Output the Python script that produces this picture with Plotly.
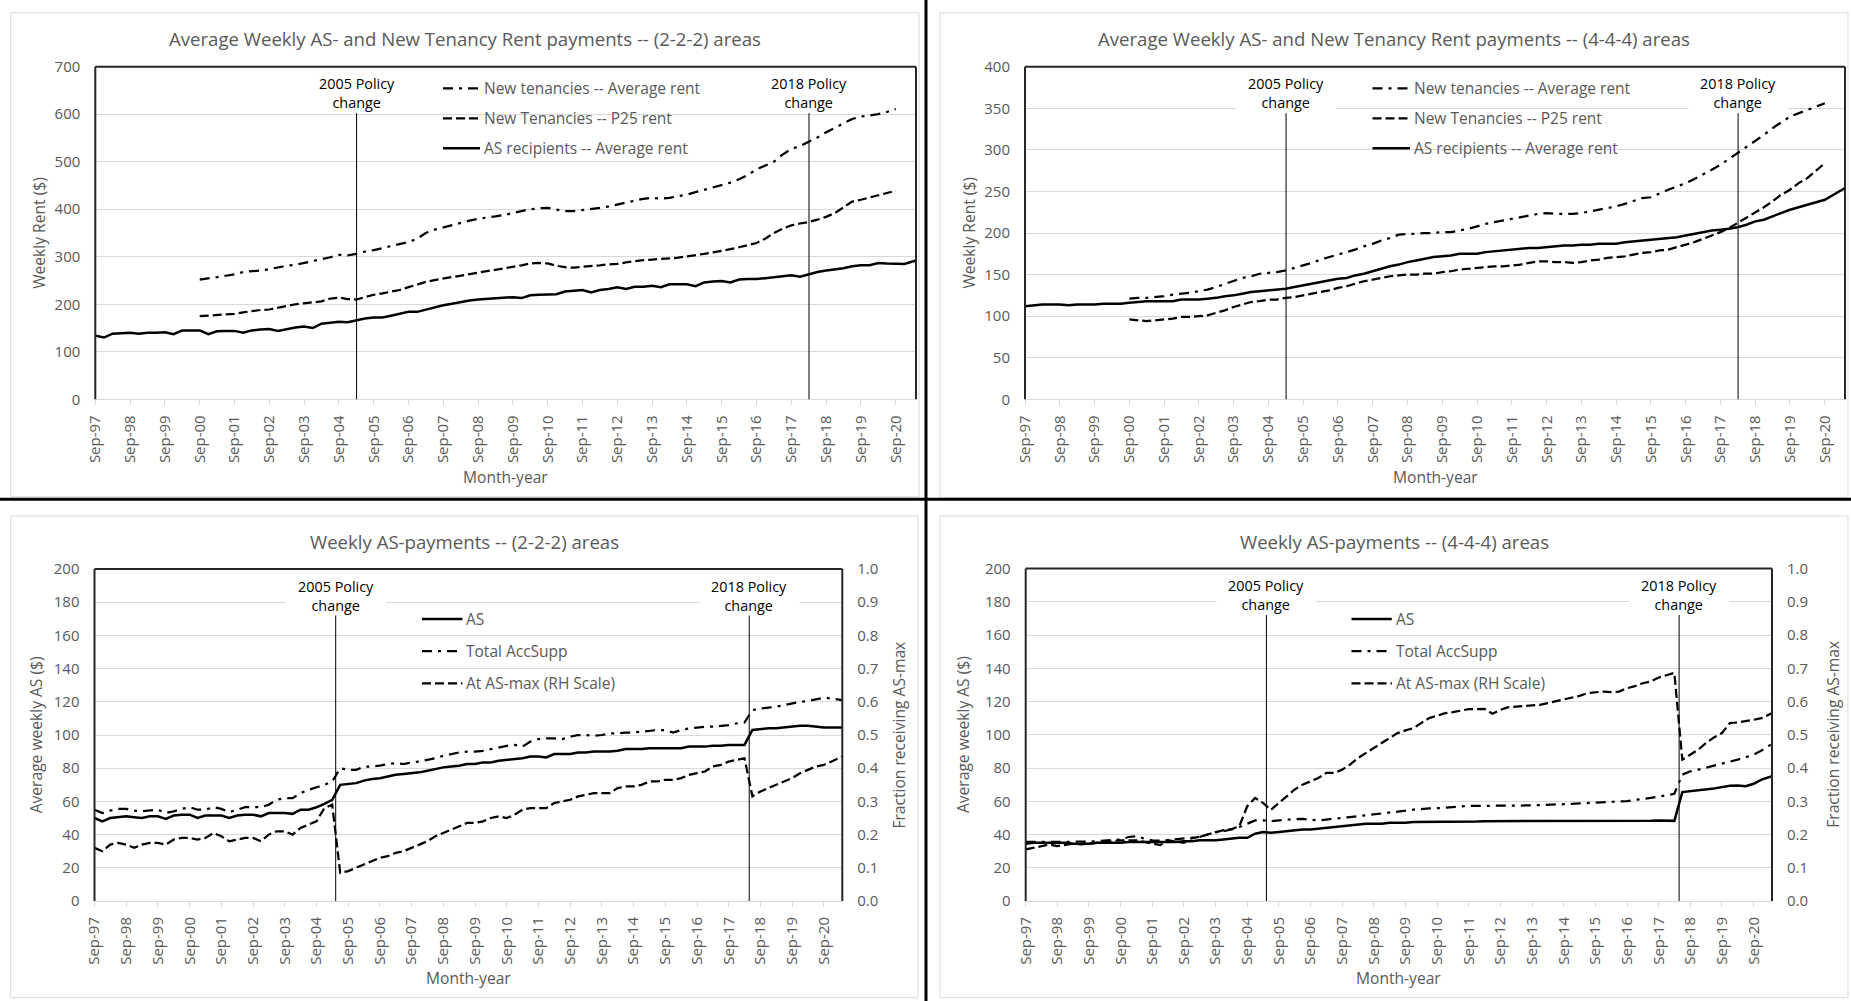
import pandas as pd
import plotly.graph_objects as go

# ---------------------------------------------------------------------------
# Data (quarterly observations, Sep-97 .. Apr-21)
# ---------------------------------------------------------------------------
QUARTERS = list(pd.date_range("1997-09-01", periods=94, freq="3MS")) + [pd.Timestamp("2021-04-01")]
NT_QUARTERS = QUARTERS[12:93]          # new-tenancy bond data: Sep-00 .. Sep-20

# (2-2-2) areas -- weekly rents ($)
RENT_222_AS = [134, 130, 138, 139, 140, 138, 140, 140, 141, 137,
               145, 145, 145, 137, 143, 144, 144, 140, 145, 147,
               148, 144, 148, 151, 153, 150, 159, 161, 163, 162,
               166, 170, 172, 172, 176, 180, 184, 184, 189, 194,
               198, 201, 205, 208, 210, 211, 212, 213, 215, 213,
               219, 220, 221, 221, 227, 228, 230, 225, 230, 232,
               236, 232, 237, 237, 239, 236, 242, 242, 242, 238,
               246, 248, 249, 246, 252, 253, 253, 255, 257, 259,
               261, 258, 263, 268, 271, 273, 276, 280, 282, 282,
               287, 286, 286, 285, 292]
RENT_222_NT_AVG = [252, 254, 257, 260, 263, 268, 269, 271, 274, 278,
                   281, 283, 287, 290, 294, 299, 304, 303, 306, 311,
                   314, 318, 322, 327, 331, 338, 350, 357, 362, 366,
                   371, 376, 380, 382, 385, 388, 392, 397, 400, 402,
                   403, 399, 396, 396, 398, 400, 403, 406, 410, 414,
                   418, 422, 424, 422, 424, 427, 431, 436, 441, 447,
                   452, 456, 463, 472, 484, 492, 500, 515, 527, 533,
                   542, 551, 562, 571, 581, 590, 595, 597, 600, 605,
                   611]
RENT_222_NT_P25 = [175, 176, 177, 178, 180, 183, 186, 188, 189, 193,
                   197, 200, 202, 204, 206, 212, 214, 211, 210, 215,
                   220, 223, 226, 230, 236, 242, 247, 251, 254, 257,
                   261, 264, 267, 270, 272, 275, 279, 282, 286, 287,
                   286, 281, 278, 277, 279, 280, 282, 284, 285, 288,
                   291, 293, 294, 295, 296, 298, 301, 303, 306, 309,
                   312, 316, 320, 325, 329, 338, 350, 359, 366, 370,
                   373, 378, 384, 392, 404, 416, 420, 425, 430, 434,
                   439]

# (4-4-4) areas -- weekly rents ($)
RENT_444_AS = [112, 113, 114, 114, 114, 113, 114, 114, 114, 115,
               115, 115, 116, 117, 118, 118, 118, 118, 120, 120,
               120, 121, 122, 124, 125, 127, 129, 130, 131, 132,
               133, 135, 137, 139, 141, 143, 145, 146, 149, 151,
               154, 157, 160, 162, 165, 167, 169, 171, 172, 173,
               175, 175, 175, 177, 178, 179, 180, 181, 182, 182,
               183, 184, 185, 185, 186, 186, 187, 187, 187, 189,
               190, 191, 192, 193, 194, 195, 197, 199, 201, 203,
               204, 205, 207, 210, 214, 216, 220, 224, 228, 231,
               234, 237, 240, 246, 254]
RENT_444_NT_AVG = [121, 122, 122, 123, 124, 126, 127, 128, 130, 132,
                   135, 139, 143, 146, 148, 151, 152, 153, 155, 158,
                   161, 164, 168, 171, 174, 177, 180, 184, 187, 191,
                   194, 198, 199, 199, 200, 200, 201, 201, 203, 205,
                   208, 211, 213, 215, 217, 219, 221, 223, 224, 223,
                   223, 223, 224, 226, 228, 230, 232, 235, 238, 242,
                   243, 248, 252, 256, 260, 265, 270, 276, 282, 289,
                   296, 303, 310, 318, 326, 333, 340, 344, 348, 352,
                   356]
RENT_444_NT_P25 = [96, 95, 94, 95, 96, 97, 99, 99, 100, 101,
                   104, 107, 111, 114, 117, 118, 120, 120, 122, 123,
                   125, 127, 129, 131, 134, 136, 139, 142, 144, 146,
                   148, 149, 150, 150, 151, 151, 153, 154, 156, 157,
                   158, 159, 160, 160, 161, 162, 164, 166, 166, 165,
                   165, 164, 165, 167, 168, 170, 171, 172, 174, 176,
                   177, 179, 180, 183, 186, 189, 193, 197, 201, 206,
                   212, 219, 225, 231, 238, 246, 252, 260, 266, 275,
                   284]

# (2-2-2) areas -- weekly AS payments ($) and fraction at AS-max
AS_222 = [50, 48, 50, 50.5, 51, 50.5, 50, 51, 51, 49.5,
          51.5, 52, 52, 50, 51.5, 51.5, 51.5, 50, 51.5, 52,
          52, 51, 53, 53, 53, 52.5, 55, 55, 56.5, 58.5,
          61, 70, 70.5, 71, 72.5, 73.5, 74, 75, 76, 76.5,
          77, 77.5, 78.5, 79.5, 80.5, 81, 81.5, 82.5, 82.5, 83.5,
          83.5, 84.5, 85, 85.5, 86, 87, 87, 86.5, 88.5, 88.5,
          88.5, 89.5, 89.5, 90, 90, 90, 90.5, 91.5, 91.5, 91.5,
          92, 92, 92, 92, 92, 93, 93, 93, 93.5, 93.5,
          94, 94, 94, 103, 103.5, 104, 104, 104.5, 105, 105.5,
          105.5, 105, 104.5, 104.5, 104.5]
ACCSUPP_222 = [55, 53, 54.5, 55.5, 55.5, 54.5, 54, 54.5, 55, 53,
               54, 55.5, 56.5, 55, 55, 56.5, 55.5, 53.5, 55, 56.5,
               56.5, 56.5, 58, 61, 62, 62, 65, 67, 68.5, 70,
               72, 80, 79, 79, 81, 81, 81.5, 82.5, 83, 82.5,
               83.5, 84, 85, 86, 87.5, 88.5, 89.5, 90, 90, 90.5,
               91.5, 92.5, 93.5, 94, 93, 96, 97.5, 98, 98, 97.5,
               99, 100, 100, 99.5, 100, 101, 101, 101.5, 101.5, 102,
               102.5, 103, 103, 101.5, 103, 104, 104.5, 105, 105, 105.5,
               106, 107, 107.5, 115, 116, 116.5, 117, 118, 119, 120,
               120.5, 121.5, 122.5, 122, 121]
ASMAX_222 = [0.16, 0.15, 0.17, 0.175, 0.17, 0.16, 0.17, 0.175, 0.175, 0.17,
             0.185, 0.19, 0.19, 0.185, 0.19, 0.205, 0.195, 0.18, 0.185, 0.19,
             0.19, 0.18, 0.2, 0.21, 0.21, 0.2, 0.22, 0.23, 0.24, 0.28,
             0.29, 0.085, 0.09, 0.1, 0.11, 0.12, 0.13, 0.135, 0.145, 0.15,
             0.16, 0.17, 0.18, 0.195, 0.205, 0.215, 0.225, 0.235, 0.235, 0.24,
             0.25, 0.255, 0.25, 0.26, 0.275, 0.28, 0.28, 0.28, 0.295, 0.3,
             0.305, 0.315, 0.32, 0.325, 0.325, 0.325, 0.34, 0.345, 0.345, 0.35,
             0.36, 0.36, 0.365, 0.365, 0.37, 0.38, 0.385, 0.39, 0.405, 0.41,
             0.42, 0.425, 0.43, 0.315, 0.33, 0.34, 0.35, 0.36, 0.37, 0.385,
             0.395, 0.405, 0.41, 0.42, 0.435]

# (4-4-4) areas -- weekly AS payments ($) and fraction at AS-max
AS_444 = [34.5, 35, 35, 35, 35, 35, 34.5, 34.5, 34.5, 35,
          35, 35, 35, 35.5, 35.5, 35.5, 35.5, 35.5, 35.5, 35.5,
          36, 36, 36.5, 36.5, 36.5, 37, 37.5, 38, 38, 40.5,
          41.5, 41, 41.5, 42, 42.5, 43, 43, 43.5, 44, 44.5,
          45, 45.5, 46, 46.5, 46.5, 46.5, 47, 47, 47, 47.5,
          47.5, 47.5, 47.5, 47.8, 47.8, 47.8, 47.8, 47.8, 48, 48,
          48, 48, 48, 48, 48, 48, 48.2, 48.2, 48.2, 48.2,
          48.2, 48.2, 48.2, 48, 47.8, 47.8, 48, 48.2, 48.2, 48.2,
          48.4, 48.4, 48.2, 65.5, 66, 66.5, 67, 67.7, 68.5, 69.3,
          69.5, 69, 70.5, 73, 75]
ACCSUPP_444 = [35.5, 35.5, 35.5, 35.5, 35.3, 35.3, 35.3, 35.5, 35.7, 36,
               36.3, 36.5, 37, 38.5, 39, 37.5, 36.5, 36.3, 36.7, 37,
               37.3, 37.8, 38.5, 40, 41.5, 42, 43, 44.5, 46.5, 48.5,
               48.5, 48, 48.5, 49, 49.2, 49.4, 49, 48.5, 49, 49.3,
               50, 50.5, 51, 51.5, 52.3, 52.7, 53.2, 53.8, 54.3, 55,
               55.5, 55.7, 55.8, 56.2, 56.7, 57, 57.2, 57.2, 57.2, 57.2,
               57.2, 57.3, 57.4, 57.4, 57.5, 57.7, 57.8, 58, 58.2, 58.4,
               58.7, 58.9, 59.1, 59.3, 59.5, 59.6, 60.1, 60.8, 61.3, 62,
               62.8, 63.6, 64.5, 76, 78, 79, 80.2, 81, 82.2, 83.8,
               85, 86.5, 88, 90.5, 94.5]
ASMAX_444 = [0.155, 0.16, 0.165, 0.17, 0.165, 0.168, 0.173, 0.17, 0.173, 0.176,
             0.178, 0.18, 0.182, 0.182, 0.182, 0.178, 0.172, 0.168, 0.183, 0.178,
             0.175, 0.189, 0.193, 0.2, 0.207, 0.213, 0.216, 0.225, 0.285, 0.31,
             0.295, 0.274, 0.295, 0.315, 0.335, 0.35, 0.36, 0.37, 0.385, 0.385,
             0.395, 0.41, 0.43, 0.445, 0.46, 0.475, 0.49, 0.505, 0.513, 0.52,
             0.535, 0.55, 0.557, 0.565, 0.568, 0.573, 0.577, 0.577, 0.578, 0.563,
             0.575, 0.583, 0.585, 0.587, 0.588, 0.59, 0.595, 0.6, 0.605, 0.61,
             0.617, 0.625, 0.628, 0.63, 0.628, 0.63, 0.64, 0.646, 0.655, 0.66,
             0.672, 0.68, 0.686, 0.425, 0.44, 0.455, 0.475, 0.492, 0.505, 0.535,
             0.537, 0.54, 0.545, 0.55, 0.565]

# Policy change dates (vertical markers)
POLICY_TOP = ["2005-03-05", "2018-03-05"]
POLICY_BOTTOM = ["2005-04-10", "2018-04-25"]
POLICY_LABELS = ["2005 Policy<br>change", "2018 Policy<br>change"]

TITLES = ["Average Weekly AS- and New Tenancy Rent payments -- (2-2-2) areas",
          "Average Weekly AS- and New Tenancy Rent payments -- (4-4-4) areas",
          "Weekly AS-payments -- (2-2-2) areas",
          "Weekly AS-payments -- (4-4-4) areas"]
RENT_NAMES = ["New tenancies -- Average rent", "New Tenancies -- P25 rent",
              "AS recipients -- Average rent"]
AS_NAMES = ["AS", "Total AccSupp", "At AS-max (RH Scale)"]

# ---------------------------------------------------------------------------
# Styling
# ---------------------------------------------------------------------------
W, H = 1851, 1001
FONT = "Open Sans"
GREY_TEXT = "#595959"
GRID = "#D9D9D9"
BORDER = "#262626"
STYLE = {
    "solid": dict(color="black", width=2.5),
    "dashdot": dict(color="black", width=2.25, dash="10px,6px,3px,6px"),
    "dash": dict(color="black", width=2.25, dash="9px,4px"),
}


def px_x(px):
    return px / W


def px_y(py):
    return 1 - py / H


# plot-area rectangles in screen pixels
PANELS = [
    dict(x0=95.3, x1=916.0, y0=66.7, y1=399.3, frame=(10.7, 12.7, 919.0, 496.7),
         title=(465, 38), ytitle=38.8, xtitle_y=476.7, legend=(443, 480, [88.3, 118.3, 148.3])),
    dict(x0=1025.0, x1=1845.0, y0=66.7, y1=399.3, frame=(940.0, 12.7, 1848.0, 497.7),
         title=(1394, 38), ytitle=968.6, xtitle_y=476.7, legend=(1372.5, 1410, [88.3, 118.3, 148.3])),
    dict(x0=94.5, x1=842.3, y0=569.0, y1=901.0, frame=(10.7, 516.0, 918.0, 997.7),
         title=(464, 541.7), ytitle=36.3, y2title=898.6, xtitle_y=978.3,
         legend=(422, 462.4, [619, 651, 683.3])),
    dict(x0=1025.7, x1=1772.0, y0=568.5, y1=901.0, frame=(940.0, 516.0, 1848.0, 997.7),
         title=(1394.8, 541.7), ytitle=962.3, y2title=1833, xtitle_y=978.3,
         legend=(1351.5, 1391.8, [619, 651, 683.3])),
]

X_RANGE = ["1997-09-01", "2021-04-01"]

fig = go.Figure()


def add_line(xs, ys, style, xa, ya, name):
    fig.add_trace(go.Scatter(x=xs, y=ys, mode="lines", name=name, line=STYLE[style],
                             xaxis=xa, yaxis=ya, showlegend=False, hoverinfo="skip"))


# rent charts
add_line(NT_QUARTERS, RENT_222_NT_AVG, "dashdot", "x", "y", RENT_NAMES[0])
add_line(NT_QUARTERS, RENT_222_NT_P25, "dash", "x", "y", RENT_NAMES[1])
add_line(QUARTERS, RENT_222_AS, "solid", "x", "y", RENT_NAMES[2])
add_line(NT_QUARTERS, RENT_444_NT_AVG, "dashdot", "x2", "y2", RENT_NAMES[0])
add_line(NT_QUARTERS, RENT_444_NT_P25, "dash", "x2", "y2", RENT_NAMES[1])
add_line(QUARTERS, RENT_444_AS, "solid", "x2", "y2", RENT_NAMES[2])
# AS payment charts
add_line(QUARTERS, AS_222, "solid", "x3", "y3", AS_NAMES[0])
add_line(QUARTERS, ACCSUPP_222, "dashdot", "x3", "y3", AS_NAMES[1])
add_line(QUARTERS, ASMAX_222, "dash", "x3", "y5", AS_NAMES[2])
add_line(QUARTERS, AS_444, "solid", "x4", "y4", AS_NAMES[0])
add_line(QUARTERS, ACCSUPP_444, "dashdot", "x4", "y4", AS_NAMES[1])
add_line(QUARTERS, ASMAX_444, "dash", "x4", "y6", AS_NAMES[2])

tick_font = dict(family=FONT, size=15, color=GREY_TEXT)
layout = dict(
    template="none",
    width=W, height=H, margin=dict(l=0, r=0, t=0, b=0, pad=0, autoexpand=False),
    paper_bgcolor="white", plot_bgcolor="white", showlegend=False,
    font=dict(family=FONT, color=GREY_TEXT),
)

y_ranges = [(0, 700, 100), (0, 400, 50), (0, 200, 20), (0, 200, 20)]
for i, p in enumerate(PANELS):
    n = "" if i == 0 else str(i + 1)
    layout["xaxis" + n] = dict(
        domain=[px_x(p["x0"]), px_x(p["x1"])], anchor="y" + n, type="date",
        range=X_RANGE, tick0="1997-09-01", dtick="M12", tickformat="%b-%y",
        tickangle=-90, ticks="outside", ticklen=5, tickcolor=GRID, tickwidth=1,
        showline=True, linecolor=GRID, linewidth=1, showgrid=False, zeroline=False,
        tickfont=tick_font, ticklabelstandoff=4, automargin=False, fixedrange=True)
    lo, hi, step = y_ranges[i]
    layout["yaxis" + n] = dict(
        domain=[px_y(p["y1"]), px_y(p["y0"])], anchor="x" + n, range=[lo, hi],
        tick0=0, dtick=step, showgrid=True, gridcolor=GRID, gridwidth=1,
        zeroline=False, showline=False, ticks="", tickfont=tick_font,
        ticklabelstandoff=14, automargin=False, fixedrange=True)

for n, base in (("5", "3"), ("6", "4")):
    layout["yaxis" + n] = dict(
        overlaying="y" + base, anchor="x" + base, side="right", range=[0, 1],
        tick0=0, dtick=0.1, tickformat=".1f", showgrid=False, zeroline=False,
        showline=False, ticks="", tickfont=tick_font, ticklabelstandoff=14,
        automargin=False, fixedrange=True)

shapes = []
annotations = []


def seg(x0, y0, x1, y1, color, width, layer="above", dash=None):
    line = dict(color=color, width=width)
    if dash:
        line["dash"] = dash
    shapes.append(dict(type="line", xref="paper", yref="paper", x0=px_x(x0), x1=px_x(x1),
                       y0=px_y(y0), y1=px_y(y1), line=line, layer=layer))


def text(x, y, s, size, color=GREY_TEXT, angle=0, xanchor="center"):
    annotations.append(dict(xref="paper", yref="paper", x=px_x(x), y=px_y(y), text=s,
                            showarrow=False, textangle=angle, xanchor=xanchor, yanchor="middle",
                            font=dict(family=FONT, size=size, color=color)))


# chart frames
for p in PANELS:
    fx0, fy0, fx1, fy1 = p["frame"]
    shapes.append(dict(type="rect", xref="paper", yref="paper", x0=px_x(fx0), x1=px_x(fx1),
                       y0=px_y(fy1), y1=px_y(fy0), line=dict(color=GRID, width=1), layer="below"))

# policy markers: white label box, vertical rule, label
for i, p in enumerate(PANELS):
    xa = "x" if i == 0 else "x" + str(i + 1)
    dates = POLICY_TOP if i < 2 else POLICY_BOTTOM
    box_top = p["y0"] + 1.5
    box_bot = p["y0"] + 46.5
    for d, lab in zip(dates, POLICY_LABELS):
        shapes.append(dict(type="rect", xref=xa, xsizemode="pixel", xanchor=d, x0=-50, x1=50,
                           yref="paper", y0=px_y(box_bot), y1=px_y(box_top),
                           fillcolor="white", line=dict(width=0), layer="above"))
        shapes.append(dict(type="line", xref=xa, x0=d, x1=d, yref="paper",
                           y0=px_y(p["y1"]), y1=px_y(box_bot),
                           line=dict(color="black", width=1), layer="above"))
        annotations.append(dict(xref=xa, x=d, yref="paper", y=px_y(p["y0"] + 26.5), text=lab,
                                showarrow=False, xanchor="center", yanchor="middle",
                                font=dict(family=FONT, size=14.4, color="black")))

# plot-area border (top, left, right)
for p in PANELS:
    seg(p["x0"], p["y0"], p["x1"], p["y0"], BORDER, 2)
    seg(p["x0"], p["y0"], p["x0"], p["y1"], BORDER, 2)
    seg(p["x1"], p["y0"], p["x1"], p["y1"], BORDER, 2)

# panel separators
seg(926, 0, 926, H, "black", 3)
seg(0, 499.3, W, 499.3, "black", 3)

# legends
rent_styles = ["dashdot", "dash", "solid"]
as_styles = ["solid", "dashdot", "dash"]
for i, p in enumerate(PANELS):
    lx0, lx1, rows = p["legend"]
    names = RENT_NAMES if i < 2 else AS_NAMES
    styles = rent_styles if i < 2 else as_styles
    for name, st, ry in zip(names, styles, rows):
        s = STYLE[st]
        seg(lx0, ry, lx1, ry, s["color"], s["width"], dash=s.get("dash"))
        text(lx1 + 2, ry, name, 15.5, xanchor="left")

# titles and axis titles
for i, p in enumerate(PANELS):
    tx, ty = p["title"]
    text(tx, ty, TITLES[i], 18.6)
    text((p["x0"] + p["x1"]) / 2, p["xtitle_y"], "Month-year", 15.6)
    cy = (p["y0"] + p["y1"]) / 2
    text(p["ytitle"], cy, "Weekly Rent ($)" if i < 2 else "Average weekly AS ($)", 15.6, angle=-90)
    if i >= 2:
        text(p["y2title"], cy, "Fraction receiving AS-max", 15.6, angle=-90)

layout["shapes"] = shapes
layout["annotations"] = annotations
fig.update_layout(**layout)

fig.write_html("out.html", config={"displayModeBar": False})
